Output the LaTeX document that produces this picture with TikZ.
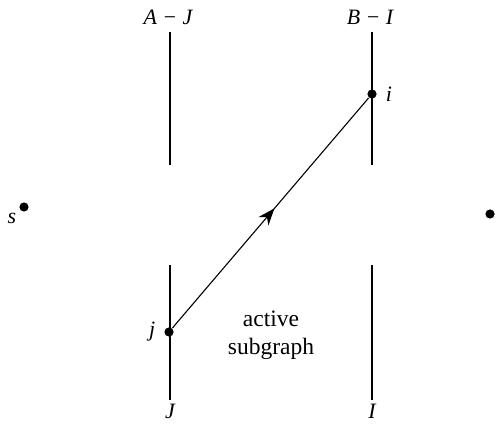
\documentclass[tikz,border=0pt]{standalone}
\usepackage{fontspec}
\setmainfont{Liberation Serif}
\usetikzlibrary{arrows.meta, decorations.markings}

\begin{document}
\begin{tikzpicture}[x=0.5bp,y=-0.5bp,>=Stealth,line width=0.65pt,
    dot/.style={circle,fill,inner sep=0pt,minimum size=4.6bp},
    lbl/.style={font=\fontsize{11}{13}\selectfont\itshape,inner sep=1pt},
    midarrow/.style={postaction={decorate},decoration={markings,
        mark=at position 0.52 with {\arrow{Stealth[length=8.5pt,width=6.5pt]}}}}]
  \useasboundingbox (0,0) rectangle (500,428);
  % the two columns
  \draw (170,32) -- (170,165);
  \draw (170,265) -- (170,400);
  \draw (372,32) -- (372,165);
  \draw (372,265) -- (372,400);
  \node[lbl] (aj) at (168,17){A − J};
  \node[lbl] (bi) at (370,17){B − I};
  \node[lbl] (jj) at (170,411){J};
  \node[lbl] (ii) at (372,411){I};
  % vertices
  \node[dot,label={[lbl,label distance=3pt]right:i}] (i) at (372,94){};
  \node[dot,label={[lbl,label distance=3pt]left:j}] (j) at (169,332){};
  \node[dot] (s) at (24,207){};
  \node[lbl] (slbl) at (12,218){s};
  \node[dot] (t) at (490,214){};
  % edge j -> i
  \draw[line width=0.55pt,midarrow] (j) -- (i);
  \node[align=center,font=\fontsize{11.8}{14}\selectfont] (act) at (271,335)
       {active\\subgraph};
\end{tikzpicture}
\end{document}
